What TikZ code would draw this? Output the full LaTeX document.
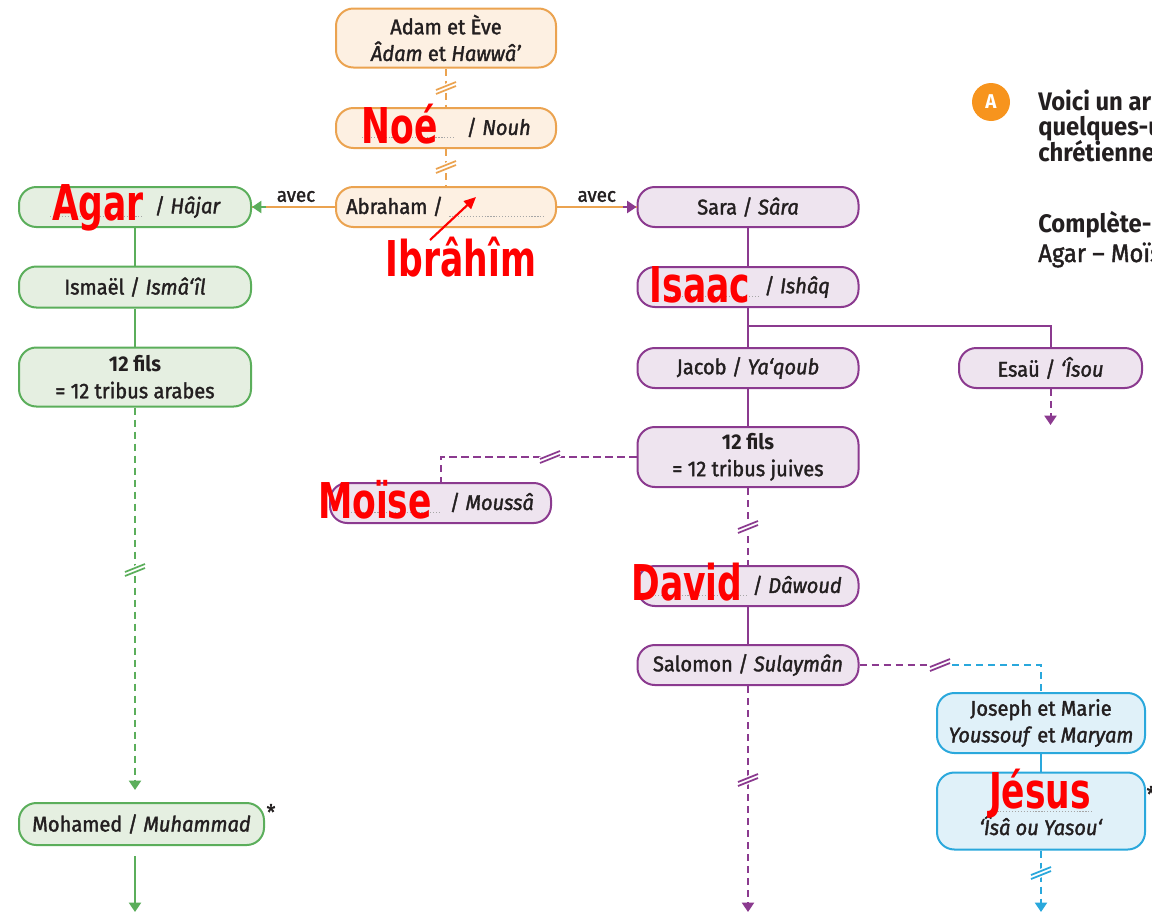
\documentclass[tikz,border=0pt]{standalone}
\usepackage{fontspec}
\setmainfont{Fira Sans}[FakeStretch=0.94, UprightFeatures={FakeBold=1.6}, ItalicFeatures={FakeBold=1.6}]
\newfontfamily\redfont{DejaVu Sans}[FakeStretch=0.7]
\usetikzlibrary{arrows.meta,calc}
\definecolor{ocol}{HTML}{EBA350}
\definecolor{ofill}{HTML}{FDF0E2}
\definecolor{gcol}{HTML}{5BAE5B}
\definecolor{gfill}{HTML}{E5EFE1}
\definecolor{pcol}{HTML}{8B3A8F}
\definecolor{pfill}{HTML}{EEE4EF}
\definecolor{bcol}{HTML}{2AA8DC}
\definecolor{bfill}{HTML}{E0F1F9}
\definecolor{acol}{HTML}{F7941D}
\definecolor{txt}{HTML}{231F20}
\definecolor{ansred}{HTML}{FF0000}
\newcommand\blank[1]{\textcolor{black!35}{\makebox[#1]{\leaders\hbox to 2.2pt{\hss\rule[-2.5pt]{0.9pt}{0.6pt}\hss}\hfill}}}
\tikzset{
  box/.style={rounded corners=13pt, draw, line width=1.5pt, align=center, inner sep=0pt,
    text=txt, font=\fontsize{16}{20}\selectfont},
  obox/.style={box, draw=ocol, fill=ofill},
  gbox/.style={box, draw=gcol, fill=gfill},
  pbox/.style={box, draw=pcol, fill=pfill},
  bbox/.style={box, draw=bcol, fill=bfill},
  small/.style={minimum width=165.75pt, minimum height=30pt},
  oline/.style={draw=ocol, line width=1.5pt},
  gline/.style={draw=gcol, line width=1.5pt},
  pline/.style={draw=pcol, line width=1.5pt},
  bline/.style={draw=bcol, line width=1.5pt},
  dashes/.style={dash pattern=on 5.5pt off 3.5pt},
  tip/.style={-{Triangle[width=9pt,length=7pt]}},
  lbl/.style={text=txt, font=\fontsize{15}{18}\selectfont, inner sep=3pt},
  intxt/.style={text=txt, font=\fontsize{16}{20}\selectfont, inner sep=0pt},
  ans/.style={text=ansred, font=\redfont\bfseries\fontsize{37}{40}\selectfont, inner sep=0pt, anchor=base},
  instr/.style={text=txt, anchor=base west, inner sep=0pt, font=\bfseries\fontsize{19}{20}\selectfont},
  brk/.pic={
    \fill[white] (-11,0) -- (11,-9) -- (11,0) -- (-11,9) -- cycle;
    \draw[#1, line width=1.3pt, solid] (-10,2) -- (10,-6) (-10,6) -- (10,-2);
  },
}
\begin{document}
\begin{tikzpicture}[x=0.75pt,y=-0.75pt]
\useasboundingbox (0,0) rectangle (1152,914);

% ---- orange nodes
\node[obox, minimum width=165pt, minimum height=44.25pt] (adam) at (446,38) {Adam et Ève\\\textit{Âdam} et \textit{Hawwâ’}};
\node[obox, minimum width=165pt, minimum height=30pt] (noe) at (446,128) {\blank{71pt}\hspace{8pt}/ \textit{Nouh}};
\node[obox, minimum width=165pt, minimum height=30pt] (abraham) at (446,207) {Abraham / \blank{73pt}};

% ---- green nodes
\node[gbox, minimum width=174pt, minimum height=30pt] (agar) at (135,207) {\blank{71pt}\hspace{8pt}/ \textit{Hâjar}};
\node[gbox, minimum width=174pt, minimum height=30.75pt] (ismael) at (135,287) {Ismaël / \textit{Ismâ‘îl}};
\node[gbox, minimum width=174pt, minimum height=44.25pt] (arabes) at (135,377) {\textbf{12 fils}\\= 12 tribus arabes};
\node[gbox, minimum width=183.75pt, minimum height=31.5pt] (mohamed) at (141.5,824) {Mohamed / \textit{Muhammad}};

% ---- purple nodes
\node[pbox, small] (sara) at (748,207) {Sara / \textit{Sâra}};
\node[pbox, small] (isaac) at (748,287) {\blank{71pt}\,/ \textit{Ishâq}};
\node[pbox, small] (jacob) at (748,368) {Jacob / \textit{Ya‘qoub}};
\node[pbox, minimum width=137.25pt, minimum height=30pt] (esau) at (1050.5,368) {Esaü / \textit{‘Îsou}};
\node[pbox, minimum width=165.75pt, minimum height=45pt] (juives) at (748,457) {\textbf{12 fils}\\= 12 tribus juives};
\node[pbox, small] (moise) at (440.5,503) {\blank{71pt}\hspace{6pt}/ \textit{Moussâ}};
\node[pbox, small] (david) at (748,586) {\blank{71pt}\,/ \textit{Dâwoud}};
\node[pbox, small] (salomon) at (748,665) {Salomon / \textit{Sulaymân}};

% ---- blue nodes
\node[bbox, minimum width=156pt, minimum height=45pt] (joseph) at (1041,723) {Joseph et Marie\\\textit{Youssouf} et \textit{Maryam}};
\node[bbox, minimum width=156pt, minimum height=57.75pt] (jesus) at (1041,811) {};
\node[intxt, anchor=base] (jesusBlank) at (1041,808) {\blank{80pt}};
\node[intxt, anchor=base] (jesusAr) at (1041,835) {\textit{‘Îsâ ou Yasou‘}};

% ---- stars
\node[text=txt, font=\fontsize{16}{18}\selectfont, inner sep=0pt] (star1) at (271,812) {*};
\node[text=txt, font=\fontsize{16}{18}\selectfont, inner sep=0pt] (star2) at (1151,794) {*};

% ---- coordinates for free ends
\coordinate (mEnd) at (135,912);
\coordinate (sEnd) at (748,912);
\coordinate (jEnd) at (1041,912);
\coordinate (eEnd) at (1050.5,425);
\coordinate (sj) at (940,665);
\coordinate (fork) at (748,326);

% ---- orange connectors
\draw[oline, dashes] (adam) -- (noe);
\draw[oline, dashes] (noe) -- (abraham);
\draw[oline] (abraham.west) -- node[lbl, above, pos=0.47] (avec1) {avec} (agar.east);
\draw[gline, tip] ($(agar.east)+(14,0)$) -- (agar.east);
\draw[oline] (abraham.east) -- node[lbl, above, pos=0.5] (avec2) {avec} (sara.west);
\draw[pline, tip] ($(sara.west)+(-14,0)$) -- (sara.west);

% ---- green connectors
\draw[gline] (agar) -- (ismael);
\draw[gline] (ismael) -- (arabes);
\draw[gline, dashes, tip] (arabes.south) -- ($(arabes.south |- mohamed.north)+(0,-12)$);
\draw[gline, tip] ($(arabes.south |- mohamed.south)+(0,10)$) -- (mEnd);

% ---- purple connectors
\draw[pline] (sara) -- (isaac);
\draw[pline] (isaac) -- (jacob);
\draw[pline] (fork) -| (esau.north);
\draw[pline, dashes, tip] (esau.south) -- (eEnd);
\draw[pline] (jacob) -- (juives);
\draw[pline, dashes] (juives.west) -| (moise.north);
\draw[pline, dashes] (juives) -- (david);
\draw[pline] (david) -- (salomon);
\draw[pline, dashes, tip] (salomon.south) -- (sEnd);
\draw[pline, dashes] (salomon.east) -- (sj);

% ---- blue connectors
\draw[bline, dashes] (sj) -| (joseph.north);
\draw[bline] (joseph) -- (jesus);
\draw[bline, dashes, tip] (jesus.south) -- (jEnd);

% ---- break marks
\pic at (446,88) {brk=ocol};
\pic at (446,167) {brk=ocol};
\pic at (135,570) {brk=gcol};
\pic at (550,457) {brk=pcol};
\pic at (748,527) {brk=pcol};
\pic at (748,780) {brk=pcol};
\pic at (940,665) {brk=pcol};
\pic at (1041,873) {brk=bcol};

% ---- red answers
\node[ans] (aNoe) at (400,143) {Noé};
\node[ans] (aIbr) at (461,276) {Ibrâhîm};
\node[ans] (aAgar) at (98,220) {Agar};
\node[ans] (aIsaac) at (700,302) {Isaac};
\node[ans] (aMoise) at (375,518) {Moïse};
\node[ans] (aDavid) at (687,600) {David};
\node[ans] (aJesus) at (1040,808) {Jésus};
\coordinate (ra) at (430,240);
\coordinate (rb) at (476,197);
\draw[ansred, line width=1.6pt, -{Triangle[width=8pt,length=9pt]}] (ra) -- (rb);

% ---- instruction column (cut at the edge)
\begin{scope}
\clip (0,0) rectangle (1152,914);
\fill[acol] (991,102) circle (19);
\node[text=white, font=\bfseries\fontsize{15}{16}\selectfont, inner sep=0pt] (circA) at (991,102) {A};
\node[instr] (t1) at (1038,110) {Voici un arbre};
\node[instr] (t2) at (1038,135.5) {quelques-uns};
\node[instr] (t3) at (1038,161) {chrétiennes};
\node[instr] (t4) at (1038,232) {Complète-le};
\node[instr, font=\fontsize{19}{20}\selectfont] (t5) at (1038,262) {Agar – Moïse};
\end{scope}
\end{tikzpicture}
\end{document}
